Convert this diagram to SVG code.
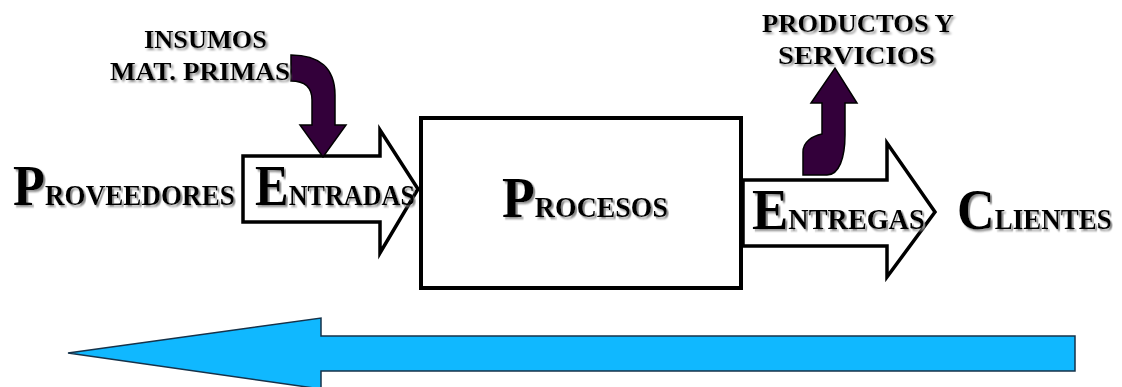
<svg xmlns="http://www.w3.org/2000/svg" width="1122" height="387" viewBox="0 0 1122 387">
  <defs>
    <filter id="shadow" x="-10%" y="-20%" width="130%" height="150%">
      <feDropShadow dx="2" dy="2" stdDeviation="0.8" flood-color="#8a8a8a" flood-opacity="1"/>
    </filter>
    <style>
      .lbl { font-family: "Liberation Serif", "Times New Roman", serif; font-weight: bold; fill: #000; }
      .big { font-size: 58px; }
      .small { font-size: 30px; }
      .note { font-size: 26px; }
      .shd { filter: url(#shadow); }
      .hollow { fill: #fff; stroke: #000; stroke-width: 3.5; stroke-linejoin: miter; }
      .bent { fill: #33003a; stroke: #000; stroke-width: 1.5; }
      .flow { fill: #10b8ff; stroke: #16324a; stroke-width: 1.5; }
    </style>
  </defs>
  <rect width="1122" height="387" fill="#fff"/>

  <g id="connectors">
    <polygon id="arrow-entradas" class="hollow" points="243,156 380,156 380,130 418,189 380,253 380,222 243,222"/>
    <polygon id="arrow-entregas" class="hollow" points="743,180 887,180 887,143 935,212 887,277 887,246 743,246"/>
    <path id="arrow-insumos" class="bent" d="M291,55 C319,55 335,68 335,95 L335,125 L346,125 L323,157 L300,125 L312,125 L312,100 C312,88 305,81 291,81 Z"/>
    <path id="arrow-productos" class="bent" d="M803,175 L803,152 C803,142 812,136 822,134 L822,103 L811,103 L835,68 L857,103 L845,103 L845,135 C845,158 839,175 827,175 Z"/>
    <polygon id="arrow-retro" class="flow" points="68,353 321,318 321,336 1075,336 1075,371 321,371 321,389"/>
  </g>

  <g id="procesos">
    <rect x="421" y="118" width="320" height="170" fill="none" stroke="#000" stroke-width="4"/>
    <text class="lbl shd" transform="translate(502,217) scale(0.928,1)" x="0" y="0"><tspan class="big">P</tspan><tspan class="small">ROCESOS</tspan></text>
  </g>

  <g id="proveedores">
    <text class="lbl shd" transform="translate(13,205) scale(0.904,1)" x="0" y="0"><tspan class="big">P</tspan><tspan class="small">ROVEEDORES</tspan></text>
  </g>

  <g id="entradas">
    <text class="lbl shd" transform="translate(255,205) scale(0.871,1)" x="0" y="0"><tspan class="big">E</tspan><tspan class="small">NTRADAS</tspan></text>
  </g>

  <g id="entregas">
    <text class="lbl shd" transform="translate(752,229) scale(0.94,1)" x="0" y="0"><tspan class="big">E</tspan><tspan class="small">NTREGAS</tspan></text>
  </g>

  <g id="clientes">
    <text class="lbl shd" transform="translate(957,229) scale(0.9,1)" x="0" y="0"><tspan class="big">C</tspan><tspan class="small">LIENTES</tspan></text>
  </g>

  <g id="insumos">
    <text class="lbl note shd" x="144" y="48" textLength="123" lengthAdjust="spacingAndGlyphs">INSUMOS</text>
    <text class="lbl note shd" x="110" y="80" textLength="180" lengthAdjust="spacingAndGlyphs">MAT. PRIMAS</text>
  </g>

  <g id="productos">
    <text class="lbl note shd" transform="translate(762,32) scale(1.025,1)" x="0" y="0">PRODUCTOS Y</text>
    <text class="lbl note shd" x="778" y="64" textLength="157" lengthAdjust="spacingAndGlyphs">SERVICIOS</text>
  </g>
</svg>
